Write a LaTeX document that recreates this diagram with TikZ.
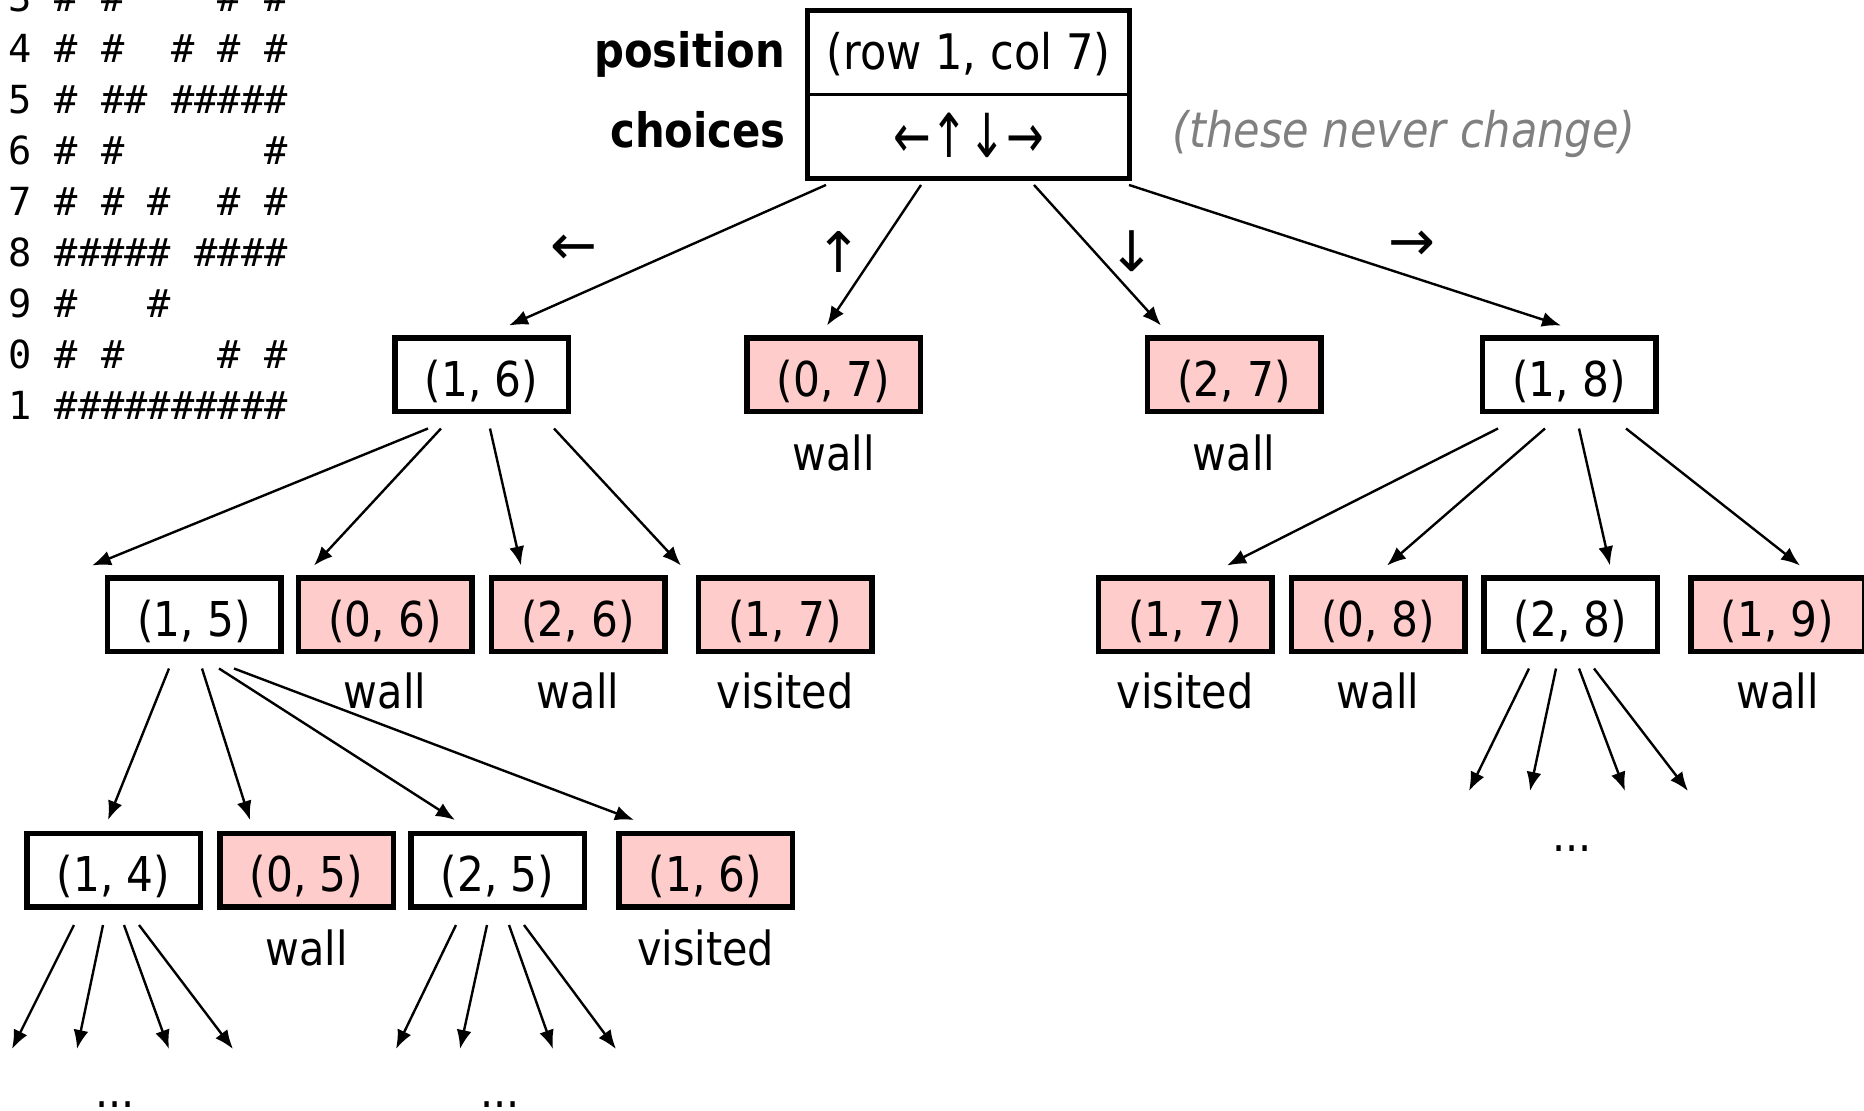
\documentclass[tikz,border=0pt]{standalone}
\usepackage{fontspec}
\setmainfont{DejaVu Sans}[FakeStretch=0.88]
\newfontfamily\arrowfont{DejaVu Sans}
\setmonofont{DejaVu Sans Mono}
\usetikzlibrary{arrows.meta}
\definecolor{pinkc}{HTML}{FFCCCC}
\definecolor{grayc}{HTML}{808080}
\begin{document}
\begin{tikzpicture}[x=1pt,y=-1pt,
  box/.style={draw, line width=5.5pt, minimum width=173.5pt, minimum height=73.5pt, inner sep=0pt, text height=48pt, text depth=5pt, font=\fontsize{48}{54}\selectfont},
  wallbox/.style={box, fill=pinkc},
  lbl/.style={anchor=base, inner sep=0pt, font=\fontsize{47}{54}\selectfont},
  dirlbl/.style={inner sep=0pt, font=\arrowfont\fontsize{56}{60}\selectfont},
  maze/.style={anchor=base west, inner sep=0pt, font=\ttfamily\fontsize{38.7}{45}\selectfont},
  arr/.style={line width=2.4pt, -{Latex[length=19pt,width=15pt]}}]
\useasboundingbox (0,0) rectangle (1864,1111);

% maze text
\node[maze] (m3) at (8,11) {3~\#~\#~~~~\#~\#};
\node[maze] (m4) at (8,62) {4~\#~\#~~\#~\#~\#};
\node[maze] (m5) at (8,113) {5~\#~\#\#~\#\#\#\#\#};
\node[maze] (m6) at (8,164) {6~\#~\#~~~~~~\#};
\node[maze] (m7) at (8,215) {7~\#~\#~\#~~\#~\#};
\node[maze] (m8) at (8,266) {8~\#\#\#\#\#~\#\#\#\#};
\node[maze] (m9) at (8,317) {9~\#~~~\#};
\node[maze] (m0) at (8,368) {0~\#~\#~~~~\#~\#};
\node[maze] (m1) at (8,419) {1~\#\#\#\#\#\#\#\#\#\#};

% top box
\node[inner sep=0pt, minimum width=321.5pt, minimum height=83.5pt] (pos) at (968.5,52.5) {};
\node[inner sep=0pt, minimum width=321.5pt, minimum height=83.5pt] (cho) at (968.5,136.5) {};
\draw[line width=5.5pt] (pos.north west) rectangle (cho.south east);
\draw[line width=2.5pt] (pos.south west) -- (pos.south east);
\node[anchor=base, inner sep=0pt, font=\fontsize{49}{54}\selectfont] (postxt) at (968.5,69) {(row 1, col 7)};
\node[inner sep=0pt, font=\arrowfont\fontsize{45}{50}\selectfont] (chotxt) at (968.5,135) {\scalebox{1}[1.35]{←↑↓→}};
\node[anchor=base east, inner sep=0pt, font=\bfseries\fontsize{47.5}{54}\selectfont] (poslbl) at (785,67) {position};
\node[anchor=base east, inner sep=0pt, font=\bfseries\fontsize{47.5}{54}\selectfont] (cholbl) at (786,147) {choices};
\node[inner sep=0pt, text=grayc, font=\itshape\fontsize{49}{54}\selectfont] (never) at (1404,134) {(these never change)};

% level 1
\node[box] (n16) at (481.5,374.5) {(1, 6)};
\node[wallbox] (n07) at (833.5,374.5) {(0, 7)};
\node[wallbox] (n27) at (1234,374.5) {(2, 7)};
\node[box] (n18) at (1569,374.5) {(1, 8)};
\node[lbl] (w07) at (833.5,470) {wall};
\node[lbl] (w27) at (1234,470) {wall};

% level 2
\node[box] (n15) at (194,614.5) {(1, 5)};
\node[wallbox] (n06) at (385,614.5) {(0, 6)};
\node[wallbox] (n26) at (578,614.5) {(2, 6)};
\node[wallbox] (n17a) at (785,614.5) {(1, 7)};
\node[wallbox] (n17b) at (1185,614.5) {(1, 7)};
\node[wallbox] (n08) at (1378,614.5) {(0, 8)};
\node[box] (n28) at (1570.5,614.5) {(2, 8)};
\node[wallbox] (n19) at (1777.5,614.5) {(1, 9)};
\node[lbl] (w06) at (385,708) {wall};
\node[lbl] (w26) at (578,708) {wall};
\node[lbl] (v17a) at (785,708) {visited};
\node[lbl] (v17b) at (1185,708) {visited};
\node[lbl] (w08) at (1378,708) {wall};
\node[lbl] (w19) at (1777.5,708) {wall};

% level 3
\node[box] (n14) at (113.5,870) {(1, 4)};
\node[wallbox] (n05) at (306.5,870) {(0, 5)};
\node[box] (n25) at (497.5,870) {(2, 5)};
\node[wallbox] (n16b) at (705.5,870) {(1, 6)};
\node[lbl] (w05) at (306.5,965) {wall};
\node[lbl] (v16b) at (705.5,965) {visited};

% dots
\node[lbl] (d1) at (115,1107) {...};
\node[lbl] (d2) at (500,1107) {...};
\node[lbl] (d3) at (1572,851) {...};

% direction labels
\node[dirlbl] (al) at (574,250) {←};
\node[dirlbl] (au) at (839,252) {↑};
\node[dirlbl] (ad) at (1132,251) {↓};
\node[dirlbl] (ar) at (1412,246) {→};

% arrows from top
\draw[arr] ([xshift=-142.5pt,yshift=-6.5pt]cho.south) -- ([xshift=27.5pt,yshift=9.5pt]n16.north);
\draw[arr] ([xshift=-47.5pt,yshift=-6.5pt]cho.south) -- ([xshift=-6.5pt,yshift=9.5pt]n07.north);
\draw[arr] ([xshift=65.5pt,yshift=-6.5pt]cho.south) -- ([xshift=-73pt,yshift=9.5pt]n27.north);
\draw[arr] ([xshift=160.5pt,yshift=-6.5pt]cho.south) -- ([xshift=-8pt,yshift=9.5pt]n18.north);

% arrows from (1,6)
\draw[arr] ([xshift=-53.5pt,yshift=-14.5pt]n16.south) -- ([xshift=-102pt,yshift=9.5pt]n15.north);
\draw[arr] ([xshift=-40.5pt,yshift=-14.5pt]n16.south) -- ([xshift=-71pt,yshift=9.5pt]n06.north);
\draw[arr] ([xshift=8.5pt,yshift=-14.5pt]n16.south) -- ([xshift=-57pt,yshift=9.5pt]n26.north);
\draw[arr] ([xshift=72.5pt,yshift=-14.5pt]n16.south) -- ([xshift=-104pt,yshift=9.5pt]n17a.north);

% arrows from (1,8)
\draw[arr] ([xshift=-71pt,yshift=-14.5pt]n18.south) -- ([xshift=42pt,yshift=9.5pt]n17b.north);
\draw[arr] ([xshift=-24pt,yshift=-14.5pt]n18.south) -- ([xshift=9pt,yshift=9.5pt]n08.north);
\draw[arr] ([xshift=10pt,yshift=-14.5pt]n18.south) -- ([xshift=39.5pt,yshift=9.5pt]n28.north);
\draw[arr] ([xshift=57pt,yshift=-14.5pt]n18.south) -- ([xshift=22.5pt,yshift=9.5pt]n19.north);

% arrows from (1,5)
\draw[arr] ([xshift=-25pt,yshift=-14.5pt]n15.south) -- ([xshift=-5.5pt,yshift=10.5pt]n14.north);
\draw[arr] ([xshift=8pt,yshift=-14.5pt]n15.south) -- ([xshift=-56.5pt,yshift=10.5pt]n05.north);
\draw[arr] ([xshift=25pt,yshift=-14.5pt]n15.south) -- ([xshift=-42.5pt,yshift=10.5pt]n25.north);
\draw[arr] ([xshift=40pt,yshift=-14.5pt]n15.south) -- ([xshift=-71.5pt,yshift=10.5pt]n16b.north);

% free ends
\coordinate (e14a) at (12,1049);
\coordinate (e14b) at (77,1049);
\coordinate (e14c) at (169,1049);
\coordinate (e14d) at (233,1049);
\coordinate (e25a) at (396,1049);
\coordinate (e25b) at (460,1049);
\coordinate (e25c) at (553,1049);
\coordinate (e25d) at (616,1049);
\coordinate (e28a) at (1469,791);
\coordinate (e28b) at (1530,791);
\coordinate (e28c) at (1625,791);
\coordinate (e28d) at (1688,791);

\draw[arr] ([xshift=-39.5pt,yshift=-15.5pt]n14.south) -- (e14a);
\draw[arr] ([xshift=-10.5pt,yshift=-15.5pt]n14.south) -- (e14b);
\draw[arr] ([xshift=10.5pt,yshift=-15.5pt]n14.south) -- (e14c);
\draw[arr] ([xshift=25.5pt,yshift=-15.5pt]n14.south) -- (e14d);

\draw[arr] ([xshift=-41.5pt,yshift=-15.5pt]n25.south) -- (e25a);
\draw[arr] ([xshift=-10.5pt,yshift=-15.5pt]n25.south) -- (e25b);
\draw[arr] ([xshift=11.5pt,yshift=-15.5pt]n25.south) -- (e25c);
\draw[arr] ([xshift=26.5pt,yshift=-15.5pt]n25.south) -- (e25d);

\draw[arr] ([xshift=-41.5pt,yshift=-14.5pt]n28.south) -- (e28a);
\draw[arr] ([xshift=-14.5pt,yshift=-14.5pt]n28.south) -- (e28b);
\draw[arr] ([xshift=8.5pt,yshift=-14.5pt]n28.south) -- (e28c);
\draw[arr] ([xshift=23.5pt,yshift=-14.5pt]n28.south) -- (e28d);
\end{tikzpicture}
\end{document}
